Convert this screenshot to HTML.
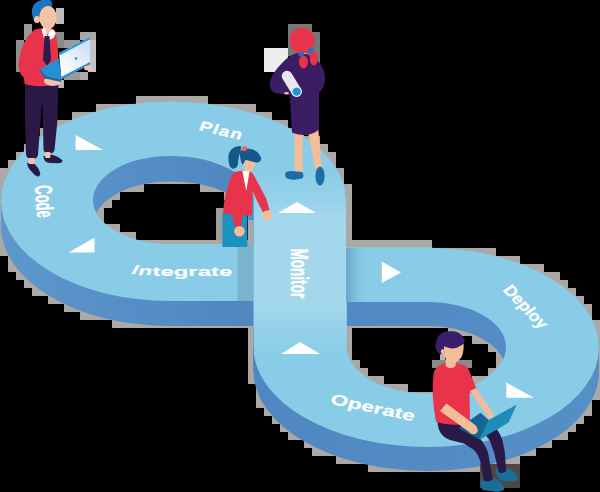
<!DOCTYPE html>
<html><head><meta charset="utf-8">
<style>
html,body{margin:0;padding:0;background:#000;}
body{width:600px;height:492px;overflow:hidden;font-family:"Liberation Sans",sans-serif;}
svg{display:block;}
text{font-family:"Liberation Sans",sans-serif;font-weight:bold;fill:#fff;}
</style></head><body>
<svg width="600" height="492" viewBox="0 0 600 492">
<defs>
<path id="shape" fill-rule="evenodd" d="M170 101.5 A176 99.5 0 0 1 346 201 L346 247.3 L430 247.3 L434 248.05 A171 99.5 0 0 1 599 347.5 A171 99.5 0 0 1 428 447 A174.3 99.5 0 0 1 253.7 347.5 L253.7 301 L170 301 A169 100 0 0 1 1 201 A169 99.5 0 0 1 170 101.5 Z
M170 156 A83.7 44 0 0 1 253.7 200 L253.7 244 L170 244 A77 44 0 0 1 93 200 A77 44 0 0 1 170 156 Z
M428 302 A78 45 0 0 1 506 347 A78 46.5 0 0 1 428 393.5 A81 46.5 0 0 1 347 347 L347 302 Z"/>
<linearGradient id="side" x1="0" y1="0" x2="600" y2="0" gradientUnits="userSpaceOnUse">
<stop offset="0" stop-color="#5E97CB"/><stop offset="0.4" stop-color="#4F87C1"/><stop offset="1" stop-color="#568EC6"/>
</linearGradient>
<linearGradient id="mon" x1="0" y1="150" x2="0" y2="375" gradientUnits="userSpaceOnUse">
<stop offset="0" stop-color="#88CCE7" stop-opacity="0"/><stop offset="0.3" stop-color="#A3D7EC"/><stop offset="0.7" stop-color="#A3D7EC"/><stop offset="1" stop-color="#88CCE7" stop-opacity="0"/>
</linearGradient>
<linearGradient id="shR" x1="346" y1="0" x2="368" y2="0" gradientUnits="userSpaceOnUse">
<stop offset="0" stop-color="#5E9EC4" stop-opacity="0.85"/><stop offset="1" stop-color="#88CCE7" stop-opacity="0"/>
</linearGradient>
<linearGradient id="lap" x1="60" y1="70" x2="90" y2="40" gradientUnits="userSpaceOnUse">
<stop offset="0" stop-color="#FFFFFF"/><stop offset="1" stop-color="#C9DBF2"/>
</linearGradient>
<clipPath id="clipTop"><use href="#shape" clip-rule="evenodd"/></clipPath>
<clipPath id="clipHL"><path d="M170 156 A83.7 44 0 0 1 253.7 200 L253.7 244 L170 244 A77 44 0 0 1 93 200 A77 44 0 0 1 170 156 Z"/></clipPath>
<clipPath id="clipLeft"><rect x="0" y="0" width="253.7" height="492"/></clipPath>
</defs>
<rect width="600" height="492" fill="#000"/>
<g id="jpegblocks" fill="#ABA8A6"><rect x="136" y="96" width="72" height="8"/><rect x="96" y="104" width="40" height="8"/><rect x="208" y="104" width="48" height="8"/><rect x="72" y="112" width="24" height="8"/><rect x="248" y="112" width="24" height="8"/><rect x="56" y="120" width="16" height="8"/><rect x="272" y="120" width="16" height="8"/><rect x="40" y="128" width="16" height="8"/><rect x="288" y="128" width="16" height="8"/><rect x="32" y="136" width="16" height="8"/><rect x="296" y="136" width="24" height="8"/><rect x="24" y="144" width="8" height="8"/><rect x="312" y="144" width="16" height="8"/><rect x="16" y="152" width="8" height="8"/><rect x="320" y="152" width="16" height="8"/><rect x="8" y="160" width="8" height="8"/><rect x="328" y="160" width="8" height="8"/><rect x="0" y="168" width="16" height="8"/><rect x="336" y="168" width="8" height="8"/><rect x="0" y="176" width="8" height="8"/><rect x="144" y="176" width="56" height="8"/><rect x="336" y="176" width="8" height="8"/><rect x="0" y="184" width="8" height="8"/><rect x="120" y="184" width="24" height="8"/><rect x="200" y="184" width="32" height="8"/><rect x="336" y="184" width="16" height="8"/><rect x="0" y="192" width="8" height="8"/><rect x="104" y="192" width="16" height="8"/><rect x="224" y="192" width="16" height="8"/><rect x="344" y="192" width="8" height="8"/><rect x="0" y="200" width="8" height="8"/><rect x="96" y="200" width="16" height="8"/><rect x="240" y="200" width="8" height="8"/><rect x="344" y="200" width="8" height="8"/><rect x="0" y="208" width="8" height="8"/><rect x="96" y="208" width="8" height="8"/><rect x="248" y="208" width="8" height="8"/><rect x="344" y="208" width="8" height="8"/><rect x="0" y="216" width="8" height="8"/><rect x="96" y="216" width="8" height="8"/><rect x="248" y="216" width="8" height="8"/><rect x="344" y="216" width="8" height="8"/><rect x="0" y="224" width="8" height="8"/><rect x="104" y="224" width="16" height="8"/><rect x="248" y="224" width="8" height="8"/><rect x="344" y="224" width="8" height="8"/><rect x="0" y="232" width="8" height="8"/><rect x="112" y="232" width="24" height="8"/><rect x="248" y="232" width="8" height="8"/><rect x="344" y="232" width="8" height="8"/><rect x="0" y="240" width="8" height="8"/><rect x="136" y="240" width="120" height="8"/><rect x="344" y="240" width="88" height="8"/><rect x="0" y="248" width="16" height="8"/><rect x="432" y="248" width="64" height="8"/><rect x="8" y="256" width="8" height="8"/><rect x="488" y="256" width="32" height="8"/><rect x="8" y="264" width="16" height="8"/><rect x="520" y="264" width="24" height="8"/><rect x="16" y="272" width="16" height="8"/><rect x="536" y="272" width="24" height="8"/><rect x="24" y="280" width="16" height="8"/><rect x="552" y="280" width="16" height="8"/><rect x="32" y="288" width="24" height="8"/><rect x="560" y="288" width="16" height="8"/><rect x="48" y="296" width="16" height="8"/><rect x="568" y="296" width="16" height="8"/><rect x="64" y="304" width="24" height="8"/><rect x="576" y="304" width="16" height="8"/><rect x="80" y="312" width="32" height="8"/><rect x="584" y="312" width="8" height="8"/><rect x="112" y="320" width="144" height="8"/><rect x="344" y="320" width="112" height="8"/><rect x="592" y="320" width="8" height="8"/><rect x="248" y="328" width="8" height="8"/><rect x="344" y="328" width="8" height="8"/><rect x="448" y="328" width="32" height="8"/><rect x="592" y="328" width="8" height="8"/><rect x="248" y="336" width="8" height="8"/><rect x="344" y="336" width="8" height="8"/><rect x="472" y="336" width="24" height="8"/><rect x="592" y="336" width="8" height="8"/><rect x="248" y="344" width="8" height="8"/><rect x="344" y="344" width="8" height="8"/><rect x="488" y="344" width="16" height="8"/><rect x="592" y="344" width="8" height="8"/><rect x="248" y="352" width="8" height="8"/><rect x="344" y="352" width="8" height="8"/><rect x="496" y="352" width="8" height="8"/><rect x="592" y="352" width="8" height="8"/><rect x="248" y="360" width="8" height="8"/><rect x="344" y="360" width="16" height="8"/><rect x="496" y="360" width="8" height="8"/><rect x="592" y="360" width="8" height="8"/><rect x="248" y="368" width="8" height="8"/><rect x="352" y="368" width="16" height="8"/><rect x="488" y="368" width="16" height="8"/><rect x="592" y="368" width="8" height="8"/><rect x="248" y="376" width="8" height="8"/><rect x="360" y="376" width="24" height="8"/><rect x="472" y="376" width="24" height="8"/><rect x="592" y="376" width="8" height="8"/><rect x="256" y="384" width="8" height="8"/><rect x="376" y="384" width="32" height="8"/><rect x="448" y="384" width="32" height="8"/><rect x="592" y="384" width="8" height="8"/><rect x="256" y="392" width="8" height="8"/><rect x="408" y="392" width="40" height="8"/><rect x="592" y="392" width="8" height="8"/><rect x="256" y="400" width="16" height="8"/><rect x="584" y="400" width="8" height="8"/><rect x="264" y="408" width="8" height="8"/><rect x="576" y="408" width="16" height="8"/><rect x="272" y="416" width="8" height="8"/><rect x="568" y="416" width="16" height="8"/><rect x="280" y="424" width="16" height="8"/><rect x="560" y="424" width="16" height="8"/><rect x="288" y="432" width="16" height="8"/><rect x="552" y="432" width="16" height="8"/><rect x="304" y="440" width="16" height="8"/><rect x="536" y="440" width="16" height="8"/><rect x="312" y="448" width="24" height="8"/><rect x="512" y="448" width="24" height="8"/><rect x="336" y="456" width="32" height="8"/><rect x="488" y="456" width="32" height="8"/><rect x="368" y="464" width="120" height="8"/></g>
<!-- side extrusion -->
<g fill="url(#side)" id="sides"><g clip-path="url(#clipLeft)"><use href="#shape" y="25"/></g><use href="#shape" y="24"/><use href="#shape" y="23"/><use href="#shape" y="22"/><use href="#shape" y="21"/><use href="#shape" y="20"/><use href="#shape" y="19"/><use href="#shape" y="18"/><use href="#shape" y="17"/><use href="#shape" y="16"/><use href="#shape" y="15"/><use href="#shape" y="14"/><use href="#shape" y="13"/><use href="#shape" y="12"/><use href="#shape" y="11"/><use href="#shape" y="10"/><use href="#shape" y="9"/><use href="#shape" y="8"/><use href="#shape" y="7"/><use href="#shape" y="6"/><use href="#shape" y="5"/><use href="#shape" y="4"/><use href="#shape" y="3"/><use href="#shape" y="2"/><use href="#shape" y="1"/></g>
<g clip-path="url(#clipHL)"><path transform="translate(0 25.4)" fill="url(#side)" fill-rule="evenodd" d="M80 100 H270 V260 H80 Z M170 156 A83.7 44 0 0 1 253.7 200 L253.7 244 L170 244 A77 44 0 0 1 93 200 A77 44 0 0 1 170 156 Z"/></g>
<!-- top surface -->
<use href="#shape" fill="#88CCE7"/>
<!-- monitor band highlight -->
<rect x="253" y="150" width="93" height="225" fill="url(#mon)" clip-path="url(#clipTop)"/>
<!-- shadows -->
<rect x="237.5" y="244" width="16.2" height="57" fill="#7AB3CC"/>
<rect x="346" y="248" width="22" height="54" fill="url(#shR)"/>

<!-- arrows -->
<g fill="#fff">
<polygon points="75.6,135 75.6,150 103,150"/>
<polygon points="94.5,237.5 94.5,252.5 68.5,252.5"/>
<polygon points="278,213 316,213 297,202"/>
<polygon points="281,354 320,354 300,342"/>
<polygon points="381.8,261.5 381.8,283 401,272.5"/>
<polygon points="506.3,382.6 506.3,397.8 534,397.8"/>
</g>
<!-- labels -->
<g id="labels" stroke="#fff" stroke-width="0.25">
<text transform="matrix(1.415 0.314 -0.43 1.03 198 130.3)" font-size="13" letter-spacing="0.8">Plan</text>
<text transform="translate(35 185.8) rotate(86.3) scale(1 1.85)" font-size="13">Code</text>
<text transform="matrix(0.85 0 -0.3 0.537 130.3 273.6)" font-size="24">I</text>
<text transform="matrix(0.95 -0.02 -0.12 0.53 137.4 275.2)" font-size="24">n</text>
<text transform="translate(152.4 275.5) scale(1 0.53)" font-size="24">tegrate</text>
<text transform="translate(291 248.4) rotate(90) scale(1 1.76)" font-size="13.6">Monitor</text>
<text transform="matrix(0.695 0.719 -0.82 0.587 502.3 290.3)" font-size="16.5">Deploy</text>
<text transform="matrix(1.007 0.214 -0.2 0.65 329.5 403.5)" font-size="22">Operate</text>
</g>
<g id="p1blocks">
<rect x="56" y="8" width="8" height="16" fill="#BDBDBD"/>
<rect x="24" y="24" width="8" height="16" fill="#999"/>
<rect x="16" y="40" width="8" height="32" fill="#8E8E8E"/>
<rect x="56" y="32" width="8" height="16" fill="#8A8A8A"/>
<rect x="64" y="40" width="16" height="8" fill="#9A9A9A"/>
<rect x="80" y="32" width="16" height="8" fill="#A8A8A8"/>
<rect x="88" y="40" width="8" height="32" fill="#C2C2C8"/>
<rect x="80" y="72" width="8" height="8" fill="#AAA"/>
<rect x="64" y="72" width="16" height="8" fill="#999"/>
<rect x="56" y="80" width="8" height="8" fill="#B5B5B5"/>
<rect x="216" y="208" width="8" height="32" fill="#9E9E9E"/>
<rect x="432" y="360" width="40" height="8" fill="#8A8A8A"/><rect x="440" y="353" width="5" height="7" fill="#B5B5B5"/>
</g>
<!-- person 1: man standing with laptop -->
<g id="p1">
<path d="M25 83 L58.5 83 L57.5 120 L54.5 150 Q53.5 154 48.5 153.5 Q43.5 153 43.5 149 L42.6 104 L41.8 104 L38 155 Q37 159.5 31.5 159 Q26 158.5 26 154 L25 120 Z" fill="#2A1846"/>
<path d="M43.3 156.5 L51.3 154.7 Q58 156 62.5 160.5 Q62.5 163 58 163.3 L50 163 Q44 162.5 43.3 156.5 Z" fill="#2A1846"/>
<path d="M27 162.7 L34.7 164 Q39 168 40.3 173 Q40 177 37.5 176.4 Q34 175 32 172 Q27.5 168 27 162.7 Z" fill="#2A1846"/>
<rect x="28.7" y="158" width="6" height="6" fill="#F6C3A6"/>
<rect x="45.3" y="152" width="5" height="6" fill="#F6C3A6"/>
<path d="M34 30 Q45 26 55 30 Q59 45 58 70 L57.5 84 Q40 88.5 24.5 84 L24 78 Q17 72 19 60 Q22 40 34 30 Z" fill="#E8334A"/>
<rect x="43" y="22" width="8" height="12" fill="#F6C3A6"/>
<polygon points="41.5,29.5 45,27.5 47,36.5 52,28.5 56,33 53.5,38 48,40.5 44,38.5" fill="#fff"/>
<polygon points="44.5,36 49.5,36 51,60 47,66 43,60" fill="#2D1B4E"/>
<path d="M32 14 Q31 2 42 0 L50 0 Q54 3 51 8 L42 10 L40 20 L34 22 Z" fill="#1F74BE"/>
<ellipse cx="48" cy="17.5" rx="8.7" ry="11.5" fill="#F6C3A6"/>
<ellipse cx="37" cy="19.5" rx="3" ry="3.5" fill="#F6C3A6"/>
<path d="M40 10 Q44 4 52 6 L51 2 L40 2 L36 8 Z" fill="#1F74BE"/>
<ellipse cx="53" cy="81" rx="9" ry="5" fill="#F6C3A6"/>
<polygon points="40,69 59,58.5 61.5,79 46,76" fill="#2492D1"/>
<polygon points="40,69 46,76 61.5,79 61,82 45,78.5 39.5,71" fill="#1A6FB0"/>
<polygon points="59,53 90,37 90,64 61.5,79" fill="url(#lap)"/>
<polygon points="59,53 90,37 90,39.2 59.3,55.5" fill="#2B9BDB"/>
<polygon points="61.2,77 90,62 90,64.5 61.5,79.5" fill="#2B8CD0"/>
<circle cx="76" cy="58.5" r="1.3" fill="#2B8CD0"/>
<ellipse cx="88" cy="68" rx="4" ry="2.5" fill="#F6C3A6"/>
</g>

<!-- person 2: woman standing (back view) -->
<g id="p2">
<rect x="264" y="48" width="24" height="24" fill="#EDEDEF"/>
<rect x="288" y="24" width="24" height="32" fill="#777"/>
<rect x="312" y="32" width="8" height="32" fill="#777"/>
<!-- legs -->
<path d="M294 130 L303 130 L302.5 172 L295 174 Z" fill="#F5BC9A"/>
<path d="M307 128 L318 126 L322 170 L316 172 Z" fill="#F5BC9A"/>
<path d="M285 175 Q285 171 291 171 L302 172 Q305 176 302 178.5 Q292 181 286 178 Z" fill="#1B6DA8"/>
<ellipse cx="320" cy="176" rx="4.6" ry="9.5" fill="#1B6DA8"/>
<!-- body -->
<path d="M304 53 C312 56 318 60 320.5 64 C324 69 325.5 74 325 80 C324.5 86 322 90 319 93 L319 129 C313 136 300 136.5 292 132.5 L289.7 95 C286 94.3 278 94 274 92.5 C270 90 269 85 270.5 80 C272 74 280 64 289 56.5 C294 53 300 52 304 53 Z" fill="#3B1D64"/>
<!-- scroll -->
<line x1="287" y1="76" x2="296.5" y2="91.5" stroke="#E9E6EE" stroke-width="10.5" stroke-linecap="round"/>
<circle cx="296.7" cy="91.6" r="5.2" fill="#F4F4FA"/>
<circle cx="296.7" cy="91.6" r="4.2" fill="#1E95D6"/>
<ellipse cx="286.5" cy="93.2" rx="2.5" ry="1.3" fill="#F5BC9A"/>
<!-- hair -->
<rect x="302" y="48" width="4" height="6" fill="#F5BC9A"/>
<ellipse cx="303.5" cy="62" rx="4.5" ry="6.5" fill="#E8334A"/>
<ellipse cx="313.7" cy="58" rx="4" ry="7.5" fill="#E8334A"/>
<ellipse cx="302" cy="40.5" rx="12.3" ry="13" fill="#E8334A"/>
<ellipse cx="301.2" cy="54" rx="3" ry="2.2" transform="rotate(-30 301.2 54)" fill="#1F74BE"/>
<ellipse cx="310.8" cy="50.6" rx="3.4" ry="2.2" transform="rotate(-35 310.8 50.6)" fill="#1F74BE"/>
</g>
<!-- person 3: girl reaching -->
<g id="p3">
<rect x="248.5" y="196" width="5" height="24" fill="#4A8FD0"/>
<rect x="222.4" y="213" width="25" height="34" fill="#1B91BD"/>
<!-- ponytail -->
<path d="M241.2 146 C232 146 228 152 228.4 158.3 C228.5 165 230.5 168.7 233.3 168.7 C236 168.7 238 166 238 163 C238.5 158 239 155 240.5 152 Z" fill="#14598A"/>
<!-- face -->
<path d="M243.5 158 L255 161 Q255.5 168 251 171.5 L250 176 L244 176 L244.5 168 Z" fill="#F5BC9A"/>
<path d="M240 153 C240 149 246 148.5 250.4 149 C256 149.5 260 154 261.3 158.3 C261 161.5 258.5 162.8 256.5 162.5 C252 162 248 160 245.5 160 C244.5 162 243.5 164 242.4 164.4 C240.5 162 239.8 157 240 153 Z" fill="#14598A"/>
<ellipse cx="244.5" cy="148.7" rx="3" ry="2.3" transform="rotate(-25 244.5 148.7)" fill="#E8635A"/>
<!-- jacket -->
<path d="M234 172.3 L242.4 170.5 L246.5 178 L250.4 171 L254 175.4 L266.2 198.5 L269.5 210 L263 212.5 L256.5 199.8 L252.5 191 L252 215.5 L242 215.5 L241.2 227 L235.3 227.5 L231.5 214 L223 213.5 Q224 198 227.2 188.8 Q230 178 234 172.3 Z" fill="#E8334A"/>
<polygon points="242.4,171 249.5,171.5 246.3,191" fill="#fff"/>
<circle cx="267.2" cy="215.2" r="4.8" fill="#F5BC9A"/>
<circle cx="239.5" cy="231.3" r="5.3" fill="#F5BC9A"/>
</g>
<!-- person 4: sitting man -->
<g id="p4">
<rect x="480" y="464" width="40" height="24" fill="#4F4741"/>
<!-- shoes -->
<path d="M481 480 Q488 475 496 479 Q505 484 504 490 L498 492 L483 490 Q479 485 481 480 Z" fill="#1B6D99"/>
<path d="M496 469 Q504 465 512 470 Q519 475 518 480 Q510 483 500 480 Q495 475 496 469 Z" fill="#1B6D99"/>
<!-- far leg -->
<path d="M480 428 L492 424 Q499 430 502.4 440 L504.8 452 L506.2 471 Q502 474.5 498.6 472 L494 452 L489.5 440 Z" fill="#2A1846"/>
<!-- near leg -->
<path d="M437.5 421 L470 421 L479.6 438 Q487 447 488.5 455 L491 470 L492.8 479.5 Q488 483 483.8 480.5 L480.8 464 Q479 455 474 450 L464 443.6 L450 440 Q438 436 437.5 421 Z" fill="#2A1846"/>
<!-- shirt -->
<path d="M433.5 374 Q434 367 445 362.7 L456 363.5 Q465 364 468 368 L477 390 L469.5 393 L470 423 Q452 427 436 422 Q431 395 433.5 374 Z" fill="#E8334A"/>
<!-- neck & head -->
<path d="M445.6 355 L455.8 355 L455.6 366 Q450.5 370.5 445.6 366 Z" fill="#F5BC9A"/>
<path d="M443.5 346 L463.6 344 Q464 352 461.5 357 Q458 362.8 453 362.6 Q447 362 444.6 356 Z" fill="#F5BC9A"/>
<path d="M439.4 354 C436 351 435 347 435.8 344 C436.5 338 439 334 443 332.5 C447 331 454 330.5 458 332.5 C462 334.5 464.5 338 464.8 341 C464.5 343.5 463 344.5 461.3 345.2 C458 347.5 455 348.5 452.7 348.5 C449 348.5 446 347 444.2 346.3 C443.5 349 443.5 351.5 442.8 353.6 C441.5 354.5 440.5 354.6 439.4 354 Z" fill="#3A1E6C"/>
<ellipse cx="442.6" cy="351.6" rx="1.7" ry="2.6" fill="#F5BC9A"/>
<!-- right arm -->
<path d="M470 391 L476 388 L493 413 L488 417 Z" fill="#F5BC9A"/>
<!-- laptop -->
<polygon points="458.8,428 480.4,412.8 489,420.3 479.6,439.8" fill="#16678F"/>
<polygon points="479.6,439.8 488.4,420.3 516.6,404.7 508.6,422.5" fill="#1E8CB8"/>
<!-- left arm -->
<path d="M440 411 L446.5 403.5 L476.5 426 L472 434 Z" fill="#F5BC9A"/>
<circle cx="473.5" cy="430" r="4.3" fill="#F5BC9A"/>
<circle cx="490" cy="415" r="3.5" fill="#F5BC9A"/>
</g>
</svg>
</body></html>
